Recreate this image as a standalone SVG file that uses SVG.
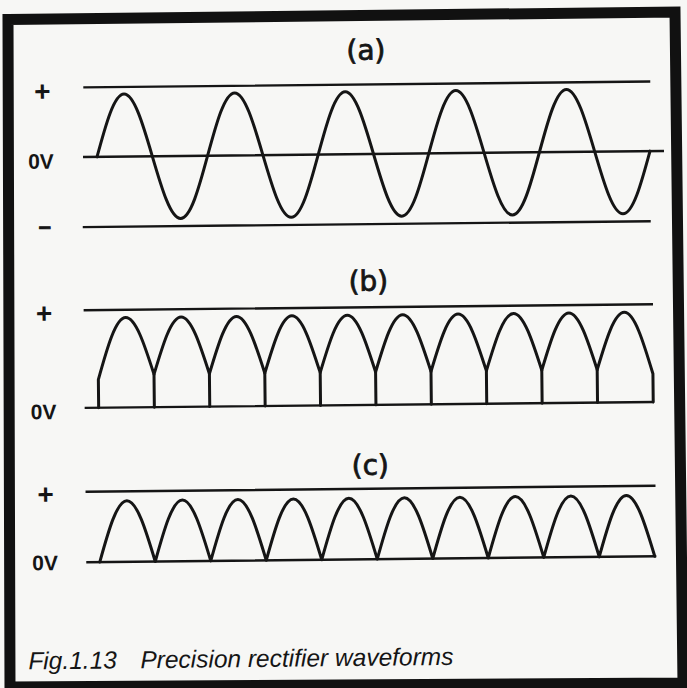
<svg xmlns="http://www.w3.org/2000/svg" width="687" height="688" viewBox="0 0 687 688">
<style>
.ln{stroke:#151515;stroke-width:2.4;fill:none;stroke-linecap:butt}
.wv{stroke:#151515;stroke-width:3;fill:none;stroke-linejoin:round;stroke-linecap:round}
.ttl{font-family:"DejaVu Sans","Liberation Sans",sans-serif;font-size:28px;fill:#151515;stroke:#151515;stroke-width:0.8px;text-anchor:middle}
.lbl{font-family:"Liberation Sans",Arial,sans-serif;font-weight:bold;font-size:21px;fill:#151515}
.pm{font-family:"Liberation Sans",Arial,sans-serif;font-weight:bold;font-size:28px;fill:#151515;text-anchor:middle}
.cap{font-family:"Liberation Sans",Arial,sans-serif;font-style:italic;font-size:24.5px;fill:#151515}
</style>
<rect x="0" y="0" width="687" height="688" fill="#f7f7f5"/>
<g id="frame">
<path d="M8,19.5 L675,12 L683,683 L10,687 Z" fill="none" stroke="#111" stroke-width="11" stroke-linejoin="miter"/>
</g>
<g id="content" transform="rotate(-0.6 344 344)">
<g id="panel-a">
<text class="ttl" x="369" y="60">(a)</text>
<text class="pm" x="45" y="97.8">+</text>
<text class="lbl" x="30" y="165.5">0V</text>
<text class="pm" x="46" y="230.6" style="font-size:22px" stroke="#151515" stroke-width="0.8">–</text>
<path class="ln" d="M86,84.7H653 M85,154.3H666 M84,224.4H652"/>
<path class="wv" d="M99,154.3 c9.02,-32.02 17.64,-62.5 27.65,-62.5 c10.01,0 18.63,30.48 27.65,62.5 c9.02,32.02 17.64,62.5 27.65,62.5 c10.01,0 18.63,-30.48 27.65,-62.5 c9.02,-32.02 17.64,-62.5 27.65,-62.5 c10.01,0 18.63,30.48 27.65,62.5 c9.02,32.02 17.64,62.5 27.65,62.5 c10.01,0 18.63,-30.48 27.65,-62.5 c9.02,-32.02 17.64,-62.5 27.65,-62.5 c10.01,0 18.63,30.48 27.65,62.5 c9.02,32.02 17.64,62.5 27.65,62.5 c10.01,0 18.63,-30.48 27.65,-62.5 c9.02,-32.02 17.64,-62.5 27.65,-62.5 c10.01,0 18.63,30.48 27.65,62.5 c9.02,32.02 17.64,62.5 27.65,62.5 c10.01,0 18.63,-30.48 27.65,-62.5 c9.02,-32.02 17.64,-62.5 27.65,-62.5 c10.01,0 18.63,30.48 27.65,62.5 c9.02,32.02 17.64,62.5 27.65,62.5 c10.01,0 18.63,-30.48 27.65,-62.5"/>
</g>
<g id="panel-b">
<text class="ttl" x="369" y="291">(b)</text>
<text class="pm" x="44.5" y="319.7">+</text>
<text class="lbl" x="30" y="416">0V</text>
<path class="ln" d="M84,307.5H653.4 M84,405.2H653.4"/>
<path class="wv" d="M98,405.2 V377 c9.13,-31.61 17.87,-61.7 28,-61.7 c10.02,0 18.67,27.85 27.7,57.1 c9.03,-29.25 17.68,-57.1 27.7,-57.1 c10.02,0 18.67,27.85 27.7,57.1 c9.03,-29.25 17.68,-57.1 27.7,-57.1 c10.02,0 18.67,27.85 27.7,57.1 c9.03,-29.25 17.68,-57.1 27.7,-57.1 c10.02,0 18.67,27.85 27.7,57.1 c9.03,-29.25 17.68,-57.1 27.7,-57.1 c10.02,0 18.67,27.85 27.7,57.1 c9.03,-29.25 17.68,-57.1 27.7,-57.1 c10.02,0 18.67,27.85 27.7,57.1 c9.03,-29.25 17.68,-57.1 27.7,-57.1 c10.02,0 18.67,27.85 27.7,57.1 c9.03,-29.25 17.68,-57.1 27.7,-57.1 c10.02,0 18.67,27.85 27.7,57.1 c9.03,-29.25 17.68,-57.1 27.7,-57.1 c10.02,0 18.67,27.85 27.7,57.1 c9.03,-29.25 17.68,-57.1 27.7,-57.1 c10.13,0 18.87,30.09 28,61.7 V405.2"/>
<path class="wv" d="M153.7,372.4V405.2 M209.1,372.4V405.2 M264.5,372.4V405.2 M319.9,372.4V405.2 M375.3,372.4V405.2 M430.7,372.4V405.2 M486.1,372.4V405.2 M541.5,372.4V405.2 M596.9,372.4V405.2"/>
</g>
<g id="panel-c">
<text class="ttl" x="369" y="475">(c)</text>
<text class="pm" x="44" y="500.7">+</text>
<text class="lbl" x="30" y="567">0V</text>
<path class="ln" d="M84,489H654 M84,559.5H654"/>
<path class="wv" d="M97.5,559.5 c9.05,-31.3 17.71,-61.1 27.75,-61.1 c10.04,0 18.7,29.8 27.75,61.1 c9.05,-31.3 17.71,-61.1 27.75,-61.1 c10.04,0 18.7,29.8 27.75,61.1 c9.05,-31.3 17.71,-61.1 27.75,-61.1 c10.04,0 18.7,29.8 27.75,61.1 c9.05,-31.3 17.71,-61.1 27.75,-61.1 c10.04,0 18.7,29.8 27.75,61.1 c9.05,-31.3 17.71,-61.1 27.75,-61.1 c10.04,0 18.7,29.8 27.75,61.1 c9.05,-31.3 17.71,-61.1 27.75,-61.1 c10.04,0 18.7,29.8 27.75,61.1 c9.05,-31.3 17.71,-61.1 27.75,-61.1 c10.04,0 18.7,29.8 27.75,61.1 c9.05,-31.3 17.71,-61.1 27.75,-61.1 c10.04,0 18.7,29.8 27.75,61.1 c9.05,-31.3 17.71,-61.1 27.75,-61.1 c10.04,0 18.7,29.8 27.75,61.1 c9.05,-31.3 17.71,-61.1 27.75,-61.1 c10.04,0 18.7,29.8 27.75,61.1"/>
</g>
<g id="caption">
<text class="cap" x="25" y="666">Fig.1.13</text>
<text class="cap" x="137" y="666">Precision rectifier waveforms</text>
</g>
</g>
</svg>
